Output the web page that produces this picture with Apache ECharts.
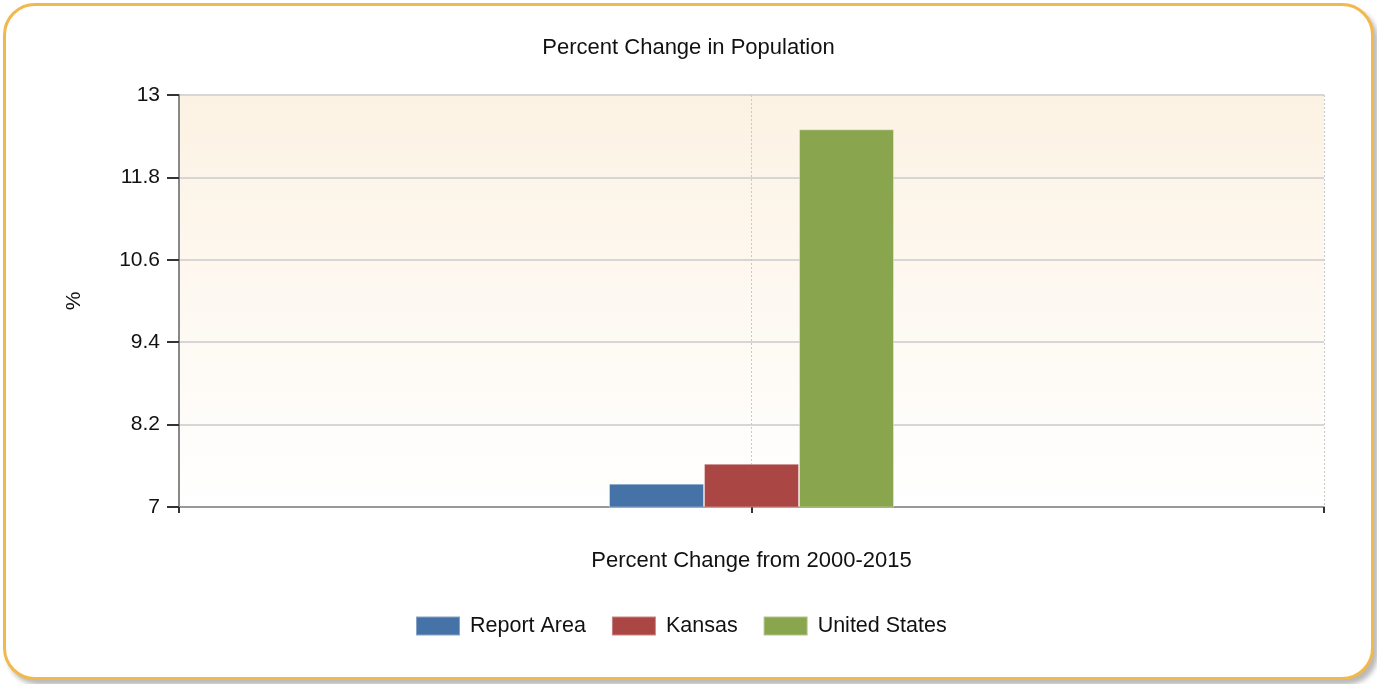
<!DOCTYPE html>
<html><head><meta charset="utf-8">
<script src="https://cdn.jsdelivr.net/npm/echarts@6/dist/echarts.min.js"></script>
<style>
html,body{margin:0;padding:0;background:#fff;width:1377px;height:684px;overflow:hidden;}
#frame{position:absolute;left:3px;top:3px;width:1365px;height:671px;border:3px solid #F2B84B;border-radius:32px;box-shadow:4px 5px 5px rgba(0,0,0,0.28);background:#fff;}
#c{position:absolute;left:0;top:0;width:1377px;height:684px;}
</style></head>
<body>
<div id="frame"></div>
<div id="c"></div>
<script>
const titleText = 'Percent Change in Population';
const xAxisName = 'Percent Change from 2000-2015';
const yAxisName = '%';
const seriesNames = ['Report Area', 'Kansas', 'United States'];
const seriesValues = [7.34, 7.63, 12.50];
const seriesColors = ['#4572A7', '#AA4643', '#89A54E'];
const yTicks = [7, 8.2, 9.4, 10.6, 11.8, 13];
const xPosition = 1;

const font = 'Liberation Sans, Arial, sans-serif';
const chart = echarts.init(document.getElementById('c'), null, {renderer: 'canvas'});
chart.setOption({
  backgroundColor: 'transparent',
  animation: false,
  title: {text: titleText, left: 'center', top: 32,
    textStyle: {fontFamily: font, fontSize: 22, fontWeight: 'normal', color: '#111'}},
  legend: {bottom: 42, left: 410, itemWidth: 44, itemHeight: 19, itemGap: 25,
    icon: 'rect',
    textStyle: {fontFamily: font, fontSize: 21.5, color: '#111', padding: [0,0,0,5]},
    data: seriesNames},
  grid: {left: 179, right: 53, top: 95, bottom: 177, show: true, borderWidth: 0,
    backgroundColor: {type: 'linear', x: 0, y: 0, x2: 0, y2: 1,
      colorStops: [{offset: 0, color: '#FCF2E3'}, {offset: 1, color: '#FFFFFF'}]}},
  xAxis: {type: 'value', min: 0, max: 2, interval: 1,
    name: xAxisName, nameLocation: 'middle', nameGap: 43,
    nameTextStyle: {fontFamily: font, fontSize: 22, color: '#111'},
    axisLine: {show: true, lineStyle: {color: '#999', width: 2}},
    axisTick: {show: true, length: 6, lineStyle: {color: '#333', width: 2}},
    axisLabel: {show: false},
    splitLine: {show: true, lineStyle: {color: '#C8C8C8', type: [2, 2], width: 1}}},
  yAxis: {type: 'value', min: yTicks[0], max: yTicks[yTicks.length-1], interval: 1.2,
    name: yAxisName, nameLocation: 'middle', nameGap: 94,
    nameTextStyle: {fontFamily: font, fontSize: 21, color: '#111'},
    axisLine: {show: true, lineStyle: {color: '#888', width: 2}},
    axisTick: {show: true, length: 12, lineStyle: {color: '#333', width: 2}},
    axisLabel: {fontFamily: font, fontSize: 21, color: '#111', margin: 19,
      formatter: v => { const t = yTicks.find(k => Math.abs(k - v) < 1e-6); return t === undefined ? '' : String(t); }},
    splitLine: {show: true, lineStyle: {color: '#D6D6D6', width: 2}}},
  series: seriesNames.map((n, i) => ({
    name: n, type: 'bar', barWidth: 95, barGap: '0%',
    itemStyle: {color: seriesColors[i], borderColor: 'rgba(255,255,255,0.35)', borderWidth: 1},
    data: [[xPosition, seriesValues[i]]]
  }))
});
</script>
</body></html>
